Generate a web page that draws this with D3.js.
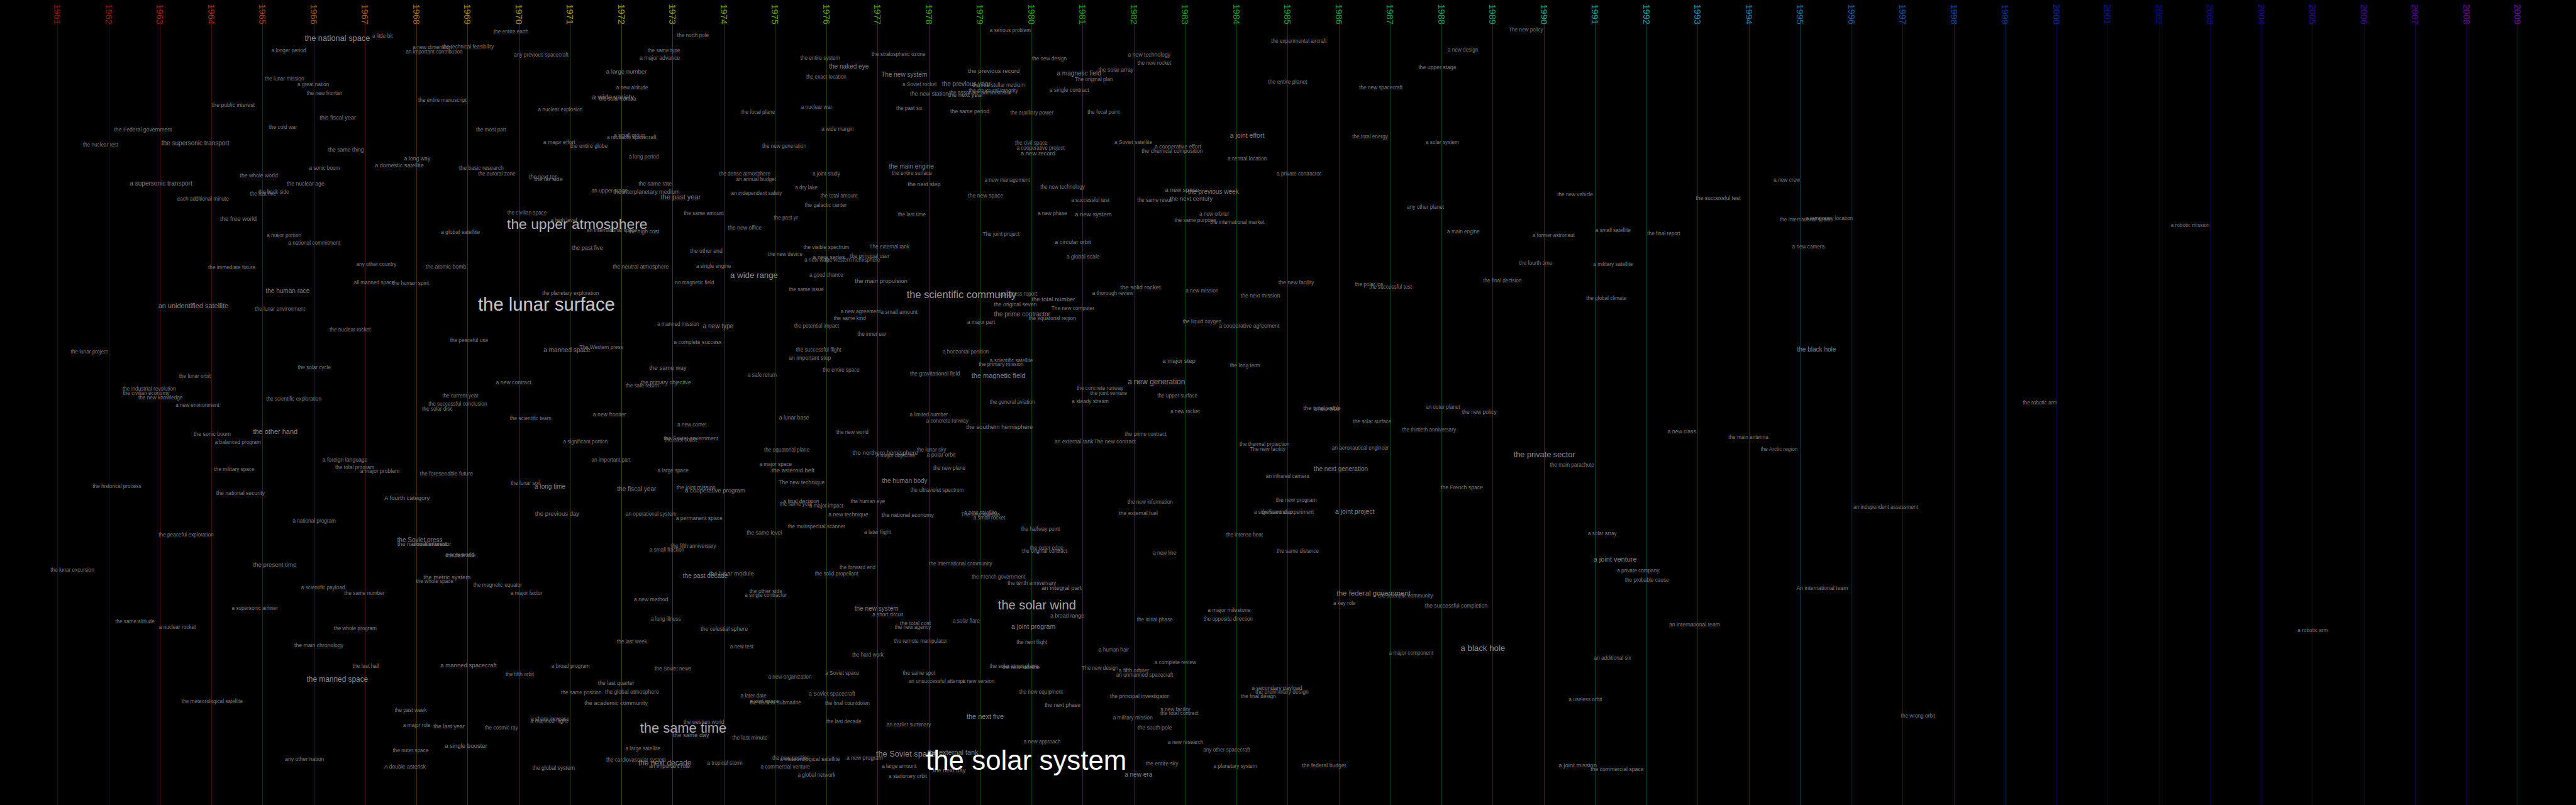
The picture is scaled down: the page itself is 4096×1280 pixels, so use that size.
<!DOCTYPE html>
<html><head><meta charset="utf-8">
<script src="https://cdn.jsdelivr.net/npm/d3@7"></script>
<style>html,body{margin:0;padding:0;background:#000;overflow:hidden}svg{display:block}</style>
</head><body><svg id="chart"></svg>
<script>
// ---- data ----
const years = [1961,1962,1963,1964,1965,1966,1967,1968,1969,1970,1971,1972,1973,1974,1975,1976,1977,1978,1979,1980,1981,1982,1983,1984,1985,1986,1987,1988,1989,1990,1991,1992,1993,1994,1995,1996,1997,1998,1999,2000,2001,2002,2003,2004,2005,2006,2007,2008,2009];

// [phrase, year position, vertical position (0-1400), weight]
const phrases = [
["the national space",1966.46,66,14],["a little bit",1967.34,63,9],["a longer period",1965.51,88,9],
["a new dimension",1968.31,83,9],["the technical feasibility",1969.01,82,9],["an important contribution",1968.35,90,9],
["the entire earth",1969.85,55,9],["any previous spacecraft",1970.44,96,9],["a large number",1972.10,124,10.5],
["the lunar mission",1965.43,137,9],["a great nation",1965.99,147,9],["the new frontier",1966.21,163,9],
["the entire manuscript",1968.51,174,9],["the public interest",1964.43,183,9.5],["a new altitude",1972.21,153,9],
["a wide variety",1971.84,168,12],["the solar corona",1971.93,172,9],["a nuclear explosion",1970.81,191,9],
["this fiscal year",1966.47,205,10],["the cold war",1965.40,222,9],["the Federal government",1962.67,225,9.5],
["the most part",1969.46,226,9],["the nuclear test",1961.84,252,9],["the supersonic transport",1963.69,249,11],
["a small group",1972.16,236,9],["a reusable spacecraft",1972.2,239,9],["a major effort",1970.79,247,9.5],
["the entire globe",1971.37,254,9.5],["the same thing",1966.63,260,9.5],["a long way",1968.02,276,9.5],
["a domestic satellite",1967.67,288,10],["a long period",1972.44,273,9],["a sonic boom",1966.21,293,9],
["the basic research",1969.27,292,9.5],["the auroral zone",1969.57,303,9],["the whole world",1964.93,305,9.5],
["the next ten",1970.48,307,9.5],["the far side",1970.58,312,10],["a supersonic transport",1963.02,319,11],
["the nuclear age",1965.84,319,9.5],["the back side",1965.22,334,9],["the last five",1965.01,338,9],
["each additional minute",1963.84,346,9],["an upper stage",1971.77,332,9.5],["the interplanetary medium",1972.49,334,10],
["the free world",1964.53,380,10.5],["the civilian space",1970.16,370,9],["a high level",1970.88,383,9],
["the upper atmosphere",1971.14,389,25],["an international space",1971.82,401,9],["the high cost",1972.44,403,9.5],
["a global satellite",1968.86,404,9.5],["a major portion",1965.42,410,9],["a national commitment",1966.01,423,9],
["the past five",1971.34,431,10],["any other country",1967.22,460,9],["the atomic bomb",1968.58,464,9.5],
["the immediate future",1964.40,465,9],["the neutral atmosphere",1972.38,464,9.5],["the same rate",1972.66,320,9.5],
["a major advance",1972.75,101,9.5],
["the north pole",1973.40,62,9],["the same type",1972.83,88,9],["the entire system",1975.88,101,9],
["the naked eye",1976.44,115,11],["the stratospheric ozone",1977.41,95,9],["The new system",1977.52,130,11],
["the exact location",1976.00,134,9],["a Soviet rocket",1977.82,147,9],["the previous year",1978.73,146,11],
["the interstellar medium",1979.36,148,9],["the new station",1978.01,163,10],["the next year",1978.72,165,10.5],
["the associate administrator",1979.00,161,9],["the structural integrity",1979.26,158,9],["a serious problem",1979.59,53,9],
["the previous record",1979.27,123,10.5],["the new design",1980.35,102,9],["a magnetic field",1980.93,127,11],
["the solar array",1981.65,121,9.5],["The original plan",1981.22,138,9],["a single contract",1980.74,157,9.5],
["a new technology",1982.30,95,9.5],["the new rocket",1982.40,110,9],["the experimental aircraft",1985.22,72,9],
["the entire planet",1985.00,142,9.5],["a nuclear war",1975.81,186,9],["the focal plane",1974.67,195,9],
["the past six",1977.62,189,9],["the same period",1978.80,194,9.5],["the auxiliary power",1980.01,196,9],
["the focal point",1981.41,195,9],["a wide margin",1976.22,225,9],["a joint effort",1984.21,235,11.5],
["the new generation",1975.18,254,9],["the civil space",1980.00,249,9],["a cooperative project",1980.18,258,9],
["a new record",1980.13,266,10.5],["a Soviet satellite",1981.99,248,9],["a cooperative effort",1982.86,255,9.5],
["the chemical composition",1982.75,263,9.5],["a central location",1984.21,276,9],["the main engine",1977.66,289,11],
["the entire surface",1977.67,301,9],["the dense atmosphere",1974.41,303,9],["an annual budget",1974.63,312,9],
["a joint study",1976.00,303,9],["a new management",1979.53,314,9],["the next step",1977.91,321,10],
["a dry lake",1975.61,327,9],["the new technology",1980.61,325,9],["an independent safety",1974.64,336,9],
["the past year",1973.16,342,12],["the total amount",1976.25,341,9],["the new space",1979.11,340,9.5],
["a successful test",1981.15,348,9],["a new space",1982.94,330,10.5],["the previous week",1983.55,333,11],
["the same result",1982.41,348,9],["the next century",1983.12,345,10.5],["the galactic center",1975.99,357,9],
["the same amount",1973.61,371,9],["the past yr",1975.21,379,9],["the last time",1977.67,374,9],
["a new phase",1980.41,371,9],["a new system",1981.21,373,10.5],["a new orbiter",1983.57,372,9],
["the same purpose",1983.20,384,9],["the international market",1984.02,387,9],["the new office",1974.41,396,9.5],
["The joint project",1979.41,408,9],["a circular orbit",1980.81,421,10],["the visible spectrum",1976.00,430,9],
["The external tank",1977.23,429,9],["the other end",1973.66,437,9.5],["the new device",1975.20,443,9],
["a new series",1976.05,447,10],["the principal user",1976.85,446,9],["a new way",1975.81,452,9],
["the western hemisphere",1976.51,452,9],["a global scale",1981.01,446,9.5],["a single engine",1973.80,463,9],
["The new policy",1989.65,52,9],["a new design",1988.42,87,9],["the upper stage",1987.92,117,9.5],
["the new spacecraft",1986.82,153,9],["the total energy",1986.61,238,9],["a solar system",1988.02,248,9],
["a private contractor",1985.22,303,9],["a new crew",1994.74,314,9],["the new vehicle",1990.61,339,9],
["the successful test",1993.40,345,9.5],["any other planet",1987.69,360,9],["the international space",1995.11,382,9],
["a temporary location",1995.57,380,9],["a main engine",1988.43,403,9],["a former astronaut",1990.19,410,9],
["a small satellite",1991.35,401,9],["the final report",1992.34,407,9],["a new camera",1995.16,429,9],
["the fourth time",1989.84,458,9],["a military satellite",1991.35,460,9],["a robotic mission",2002.61,392,9],
["all manned space",1967.18,492,9],["the human spirit",1967.89,493,9],["the human race",1965.49,506,11],
["an unidentified satellite",1963.65,532,12],["the lunar environment",1965.34,538,9],["the planetary exploration",1971.01,510,9],
["the lunar surface",1970.54,529,32],["the nuclear rocket",1966.71,574,9],["the peaceful use",1969.03,592,9],
["a manned space",1970.94,609,11],["The Western press",1971.61,605,9],["the lunar project",1961.62,612,9],
["the solar cycle",1966.01,639,9],["the lunar orbit",1963.68,655,9],["a new contract",1969.90,665,9.5],
["the primary objective",1972.87,665,9.5],["the safe return",1972.41,671,9],["the industrial revolution",1962.79,677,9],
["the civilian economy",1962.73,684,9],["the new knowledge",1963.01,692,9],["the scientific exploration",1965.61,694,9],
["a new environment",1963.73,705,9],["the current year",1968.86,689,9],["the successful conclusion",1968.81,703,9],
["the solar disc",1968.41,712,9],["the scientific team",1970.23,728,9],["a new frontier",1971.77,721,9.5],
["the sonic boom",1964.02,755,9.5],["the other hand",1965.25,751,12],["a balanced program",1964.52,770,9],
["a significant portion",1971.30,769,9],["a foreign language",1966.61,800,9.5],["an important part",1971.80,800,9],
["the total program",1966.80,814,9],["a major problem",1967.29,820,9.5],["the military space",1964.45,817,9],
["the foreseeable future",1968.59,824,9.5],["the historical process",1962.16,846,9],["the lunar soil",1970.13,841,9],
["a long time",1970.61,846,11],["the fiscal year",1972.30,851,11],["the national security",1964.57,858,9.5],
["A fourth category",1967.82,866,10.5],["the previous day",1970.75,893,10.5],["an operational system",1972.58,894,9],
["a national program",1966.01,906,9],["the peaceful exploration",1963.51,931,9],
["a wide range",1974.59,479,14.5],["no magnetic field",1973.43,492,9],["a good chance",1976.00,479,9],
["the main propulsion",1977.07,488,10.5],["the same issue",1975.61,504,9],["the scientific community",1978.64,512,18],
["a progress report",1979.73,511,9],["the total number",1980.43,520,10.5],["the original seven",1979.69,530,9.5],
["The new computer",1980.81,537,9],["the solid rocket",1982.13,499,10.5],["a thorough review",1981.59,510,9],
["a new mission",1983.33,506,9],["the next mission",1984.47,514,9.5],["a new agreement",1976.67,542,9],
["a small amount",1977.42,543,9.5],["the same kind",1976.46,554,9],["the prime contractor",1979.82,546,11],
["the equatorial region",1980.41,554,9],["a major part",1979.02,561,9],["a manned mission",1973.11,564,9],
["a new type",1973.89,567,11],["the potential impact",1975.81,567,9],["the liquid oxygen",1983.33,560,9],
["a cooperative agreement",1984.25,567,9.5],["the inner ear",1976.89,582,9],["a complete success",1973.49,595,9.5],
["the successful flight",1975.85,609,9],["a horizontal position",1978.72,612,9],["an important step",1975.68,622,9.5],
["a scientific satellite",1979.61,628,9],["the primary mission",1979.41,634,9],["a major step",1982.88,627,10.5],
["the long term",1984.17,636,9],["the same way",1972.91,639,10.5],["the entire space",1976.29,644,9],
["a safe return",1974.75,653,9],["the gravitational field",1978.12,650,9.5],["the magnetic field",1979.36,653,12],
["a new generation",1982.44,664,13],["the concrete runway",1981.34,676,9],["the joint venture",1981.51,684,9],
["the upper surface",1982.85,689,9],["the general aviation",1979.63,700,9],["a steady stream",1981.15,699,9],
["a new rocket",1983.00,716,9],["a lunar base",1975.37,726,9.5],["a limited number",1978.00,722,9],
["a concrete runway",1978.36,732,9],["the southern hemisphere",1979.38,742,10.5],["a new comet",1973.38,739,9],
["the new world",1976.51,752,9],["the prime contract",1982.23,755,9],["the Soviet government",1973.36,763,9.5],
["the east coast",1973.16,765,9],["an external tank",1980.83,768,9.5],["The new contract",1981.63,768,9.5],
["the thermal protection",1984.55,773,9],["The new facility",1984.61,782,9],["the equatorial plane",1975.23,783,9],
["the northern hemisphere",1977.15,787,10.5],["the lunar sky",1978.05,783,9],["A major objective",1977.35,793,9],
["a polar orbit",1978.24,791,9.5],["a major space",1975.01,808,9],["the asteroid belt",1975.35,818,10.5],
["a large space",1973.01,819,9],["the new plane",1978.40,815,9],["an infrared camera",1985.00,829,9],
["The new technique",1975.52,839,9.5],["the human body",1977.53,836,11],["the joint mission",1973.46,848,9.5],
["a cooperative program",1973.83,853,10.5],["the ultraviolet spectrum",1978.16,853,9],["a final decision",1975.51,872,9.5],
["the same year",1975.41,877,9],["a major impact",1976.00,880,9],["the human eye",1976.81,873,9],
["the new information",1982.32,874,9],["the new program",1985.17,870,9.5],["a permanent space",1973.52,901,9.5],
["a new technique",1976.43,895,9.5],["the national economy",1977.59,896,9.5],["a new satellite",1979.01,892,9],
["The new satellite",1979.01,896,9],["a small rocket",1979.18,901,9],["the external fuel",1982.09,893,9.5],
["a significant step",1984.72,891,9],["the second experiment",1985.00,891,9],["the multispectral scanner",1975.81,916,9],
["the same level",1974.79,927,9.5],["a later flight",1977.00,926,9],["the halfway point",1980.18,921,9],
["the intense heat",1984.16,930,9],["the new facility",1985.17,491,9.5],
["the polar ice",1986.59,495,9],["the successful test",1987.01,499,9],["the final decision",1989.19,488,9],
["the global climate",1991.22,519,9],["the black hole",1995.32,608,11],["the total value",1985.67,709,10.5],
["a new orbit",1985.76,712,9],["an outer planet",1988.03,708,9],["the new policy",1988.74,717,9.5],
["the solar surface",1986.65,734,9],["the thirtieth anniversary",1987.76,748,9],["a new class",1992.69,750,9.5],
["the main antenna",1993.99,761,9],["the Arctic region",1994.59,782,9],["an aeronautical engineer",1986.42,779,9],
["the private sector",1990.01,791,14],["the main parachute",1990.55,809,9],["the next generation",1986.04,816,11],
["the French space",1988.40,848,9.5],["a joint project",1986.31,889,11.5],["an independent assessment",1996.67,882,9],
["a solar array",1991.14,928,9],["the robotic arm",1999.68,701,9],
["the Soviet press",1968.07,939,11],["the national interest",1968.12,946,10],["a nuclear reactor",1968.30,947,9],
["a new world",1968.85,965,9.5],["the dark side",1968.87,967,9],["the present time",1965.24,982,10.5],
["the lunar excursion",1961.29,992,9],["the metric system",1968.60,1004,10.5],["the whole space",1968.36,1012,9],
["the magnetic equator",1969.59,1018,9],["a scientific payload",1966.18,1022,9],["the same number",1966.99,1032,9],
["a major factor",1970.15,1032,9],["a new method",1972.58,1043,9.5],["a supersonic airliner",1964.85,1058,9],
["the same altitude",1962.51,1082,9],["a nuclear rocket",1963.34,1091,9],["the whole program",1966.81,1094,9],
["the main chronology",1966.10,1123,9.5],["the last week",1972.21,1116,9],["the last half",1967.02,1159,9],
["a manned spacecraft",1969.02,1157,10.5],["a broad program",1971.01,1159,9],["the fifth orbit",1970.02,1173,9],
["the manned space",1966.46,1182,13],["the last quarter",1971.90,1188,9.5],["the same position",1971.22,1205,9],
["the global atmosphere",1972.21,1204,9.5],["the academic community",1971.90,1223,10],["the meteorological satellite",1964.02,1220,9],
["the past week",1967.89,1236,9],["a sharp increase",1970.61,1251,9],["a manned flight",1970.59,1254,9.5],
["a major role",1968.01,1262,9],["the last year",1968.64,1264,10],["the cosmic ray",1969.66,1266,9],
["the same time",1973.21,1266,24],["a large satellite",1972.42,1303,9],["the cardiovascular system",1972.29,1322,9],
["a single booster",1968.97,1297,10.5],["the outer space",1967.89,1306,9],["any other nation",1965.82,1321,9.5],
["A double asterisk",1967.78,1334,9.5],["the global system",1970.68,1336,9.5],["the next decade",1972.85,1327,13],
["an important role",1972.94,1333,9.5],
["the fifth anniversary",1973.41,950,9],["a small fraction",1972.89,957,9],["the outer edge",1980.30,953,9],
["the original contract",1980.26,959,9],["a new line",1982.60,962,9],["the same distance",1985.20,959,9],
["the forward end",1976.61,987,9],["the international community",1978.62,981,9],["the past decade",1973.64,1002,11],
["the lunar module",1974.15,997,10.5],["the solid propellant",1976.20,998,9],["the French government",1979.36,1004,9],
["the tenth anniversary",1980.01,1015,9],["an integral part",1980.59,1022,10.5],["the other side",1974.82,1028,9.5],
["a single contractor",1974.82,1036,9],["the new system",1976.98,1059,11],["a short circuit",1977.20,1069,9],
["the solar wind",1980.11,1053,22],["a broad range",1980.70,1071,9.5],["a major milestone",1983.86,1061,9.5],
["the opposite direction",1983.84,1077,9],["the initial phase",1982.41,1078,9],["a long illness",1972.87,1077,9],
["the total cost",1977.74,1084,9.5],["the new agency",1977.69,1091,9],["a solar flare",1978.73,1080,9],
["a joint program",1980.04,1090,11.5],["the celestial sphere",1974.01,1094,9.5],["the remote manipulator",1977.84,1115,9],
["the next flight",1980.01,1118,9],["a new test",1974.35,1125,9],["a human hair",1981.61,1131,9],
["the hard work",1976.81,1139,9],["a complete review",1982.81,1153,9],["the solar atmosphere",1979.66,1159,9],
["the new satellite",1979.80,1161,9],["The new design",1981.34,1163,9],["a fifth orbiter",1982.00,1166,9.5],
["an unmanned spacecraft",1982.21,1174,9],["the Soviet news",1973.01,1164,9],["a Soviet space",1976.31,1171,9],
["the same spot",1977.81,1171,9],["a new organization",1975.29,1178,9],["an unsuccessful attempt",1978.15,1185,9],
["a new version",1978.97,1185,9],["a secondary payload",1984.79,1197,9.5],["the preliminary design",1984.89,1203,9.5],
["the final design",1984.43,1212,9],["the new equipment",1980.19,1204,9],["the principal investigator",1982.11,1211,9.5],
["a later date",1974.58,1211,9],["a Soviet spacecraft",1976.11,1207,9.5],["a joint space",1974.79,1220,9],
["the nuclear submarine",1975.01,1223,9],["the final countdown",1976.41,1224,9],["the next phase",1980.61,1227,9.5],
["a new facility",1982.81,1235,9],["the total contract",1982.89,1241,9],["a military mission",1981.98,1249,9],
["the next five",1979.10,1246,12],["the western world",1973.61,1257,9],["the last decade",1976.34,1256,9],
["an earlier summary",1977.61,1261,9],["the south pole",1982.41,1266,9.5],["the same day",1973.36,1278,10.5],
["the last minute",1974.51,1283,9.5],["a new approach",1980.21,1290,9],["a new research",1983.01,1292,9],
["any other spacecraft",1983.81,1305,9],["the Soviet space",1977.55,1311,14],["the external tank",1978.47,1309,12],
["the solar system",1979.90,1322,48],["the next day",1978.40,1340,10.5],["the new position",1975.31,1319,9],
["a meteorological satellite",1975.68,1321,9.5],["a new program",1976.75,1318,9.5],["a tropical storm",1974.02,1328,9],
["a commercial venture",1975.20,1334,9],["a large amount",1977.42,1333,9],["the entire sky",1982.55,1328,9.5],
["a planetary system",1983.98,1333,9],["a global network",1975.81,1348,9],["a stationary orbit",1977.59,1351,9],
["a new era",1982.09,1347,11],
["a joint venture",1991.39,973,12],["a private company",1991.84,993,9],["the probable cause",1992.01,1009,9],
["An international team",1995.43,1023,9.5],["the federal government",1986.68,1032,12.5],["the scientific community",1987.30,1037,9],
["a key role",1986.11,1050,9],["the successful completion",1988.29,1054,9.5],["an international team",1992.94,1086,9.5],
["a black hole",1988.81,1128,14.5],["a major component",1987.41,1136,9],["an additional six",1991.34,1145,9],
["a useless orbit",1990.81,1217,9],["the wrong orbit",1997.30,1246,9],["the federal budget",1985.71,1331,9.5],
["a joint mission",1990.66,1331,10.5],["the commercial space",1991.43,1338,9.5],["a robotic arm",2005.00,1097,9]
];

// ---- layout ----
const S = 0.914, W = 4096, H = 1280;
const svg = d3.select("#chart").attr("width", W).attr("height", H)
  .style("background", "#000");

const x = d3.scaleLinear().domain([1961, 2009]).range([100 * S, 4380 * S]);
const y = d3.scaleLinear().domain([0, 1400]).range([0, 1400 * S]);
const fontSize = d3.scaleLinear().domain([9, 48]).range([9 * S, 48 * S]);
const textColor = d3.scaleLinear().domain([9, 48]).range(["#7a7a7a", "#ffffff"]);
const yearHue = d3.scaleLinear().domain([1961, 2009]).range([0, 280]);
const yearColor = yr => d3.hsl(yearHue(yr), 1, 0.31).formatHex();

// year lines
svg.append("g").selectAll("line").data(years).join("line")
  .attr("x1", d => Math.round(x(d)) + 0.5).attr("x2", d => Math.round(x(d)) + 0.5)
  .attr("y1", y(7)).attr("y2", H)
  .attr("stroke", d => yearColor(d)).attr("stroke-opacity", 0.4).attr("stroke-width", 1);

// year labels (vertical)
svg.append("g").selectAll("text").data(years).join("text")
  .attr("transform", d => `translate(${x(d)},${y(7)}) rotate(90)`)
  .attr("text-anchor", "start").attr("dominant-baseline", "central")
  .style("font-family", "'Liberation Sans', Arial, sans-serif")
  .style("font-size", (16 * S) + "px")
  .attr("fill", d => yearColor(d))
  .text(d => d);

// phrases, smallest first so big ones sit on top
const sorted = phrases.slice().sort((a, b) => a[3] - b[3]);
svg.append("g").selectAll("text").data(sorted).join("text")
  .attr("x", d => x(d[1])).attr("y", d => y(d[2]))
  .attr("text-anchor", "middle").attr("dominant-baseline", "central")
  .style("font-family", "'Liberation Sans', Arial, sans-serif")
  .style("font-size", d => fontSize(d[3]) + "px")
  .attr("fill", d => textColor(d[3]))
  .text(d => d[0]);
</script>
</body></html>
